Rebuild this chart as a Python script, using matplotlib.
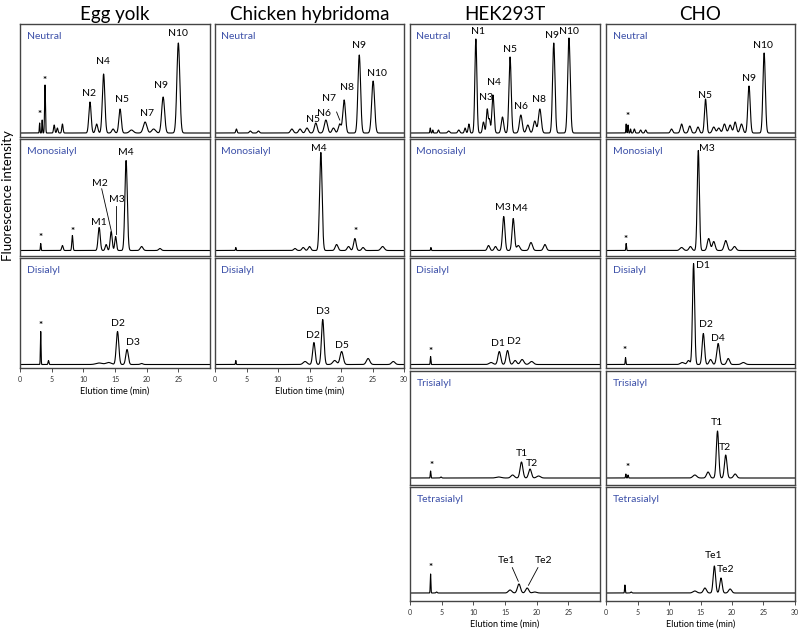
import numpy as np
import matplotlib.pyplot as plt

plt.rcParams['font.family'] = ['Lato', 'DejaVu Sans']

# peak tables: (elution time min, height, width min)
egg_neutral = [(3.1, 10, 0.05), (3.5, 13, 0.05), (3.95, 48, 0.07), (5.4, 8, 0.1), (5.9, 5, 0.1),
               (6.7, 9, 0.1), (11.05, 31, 0.18), (12.1, 9, 0.18), (13.2, 59, 0.2), (14.7, 4, 0.2),
               (15.8, 24, 0.19), (17.6, 3, 0.3), (19.75, 11, 0.28), (21.1, 4, 0.3), (22.6, 36, 0.23),
               (25.0, 90, 0.23)]
egg_mono = [(3.27, 7, 0.05), (6.7, 5, 0.12), (8.27, 15, 0.09), (12.5, 23, 0.17), (13.6, 6, 0.15),
            (14.4, 19, 0.16), (15.1, 14, 0.14), (16.75, 90, 0.19), (19.2, 4, 0.22), (22.1, 2, 0.2)]
egg_di = [(3.27, 33, 0.05), (4.5, 4, 0.07), (12.5, 1.5, 0.5), (14.0, 2, 0.4), (15.4, 33, 0.2),
          (16.9, 15, 0.2), (19.2, 1, 0.2)]

chk_neutral = [(3.4, 4, 0.1), (5.6, 2, 0.15), (6.9, 2, 0.15), (12.2, 4, 0.22), (13.5, 4, 0.22),
               (14.6, 5, 0.22), (16.0, 10, 0.22), (17.6, 13, 0.25), (18.8, 5, 0.22), (19.8, 9, 0.22),
               (20.5, 33, 0.21), (22.9, 78, 0.21), (25.1, 52, 0.23)]
chk_mono = [(3.3, 3, 0.05), (12.7, 2, 0.2), (14.0, 3, 0.2), (15.0, 4, 0.2), (16.8, 98, 0.2),
            (19.3, 6, 0.22), (21.2, 4, 0.22), (22.2, 12, 0.2), (23.5, 3, 0.2), (26.6, 4, 0.27)]
chk_di = [(3.3, 4, 0.05), (14.3, 3, 0.3), (15.7, 22, 0.2), (17.1, 45, 0.2), (19.0, 4, 0.3),
          (20.1, 13, 0.25), (24.3, 6, 0.27), (28.3, 3, 0.27)]

hek_neutral = [(3.2, 5, 0.06), (3.6, 3, 0.06), (4.5, 3, 0.1), (6.1, 2, 0.15), (7.7, 3, 0.15),
               (8.7, 5, 0.12), (9.3, 9, 0.12), (10.4, 94, 0.16), (11.6, 11, 0.15), (12.2, 24, 0.14),
               (12.55, 13, 0.12), (13.1, 38, 0.17), (14.6, 16, 0.19), (15.8, 76, 0.18), (17.5, 18, 0.22),
               (18.6, 8, 0.22), (19.7, 12, 0.22), (20.5, 24, 0.22), (22.7, 90, 0.19), (25.1, 95, 0.2)]
hek_mono = [(3.3, 3, 0.05), (12.4, 5, 0.19), (13.5, 4, 0.19), (14.8, 34, 0.19), (16.3, 32, 0.19),
            (17.1, 5, 0.25), (19.1, 8, 0.24), (21.3, 6, 0.22)]
hek_di = [(3.25, 8, 0.05), (12.8, 2, 0.3), (14.1, 13, 0.22), (15.4, 14, 0.22), (16.6, 4, 0.24),
          (17.7, 5, 0.27), (19.2, 3, 0.3)]
hek_tri = [(3.25, 7, 0.05), (4.9, 1, 0.1), (14.0, 1, 0.4), (16.2, 3, 0.27), (17.6, 16, 0.22),
           (18.95, 9, 0.22), (20.3, 2, 0.3)]
hek_tetra = [(3.25, 19, 0.05), (4.2, 1, 0.1), (15.8, 3, 0.27), (17.2, 9, 0.24), (18.5, 5, 0.24),
             (19.7, 1, 0.3)]

cho_neutral = [(3.2, 9, 0.05), (3.5, 8, 0.05), (3.9, 4, 0.06), (4.5, 4, 0.1), (5.5, 3, 0.12),
               (6.3, 3, 0.12), (10.4, 4, 0.17), (12.0, 9, 0.19), (13.3, 7, 0.19), (14.6, 6, 0.19),
               (15.8, 34, 0.17), (17.1, 6, 0.22), (17.9, 5, 0.22), (18.8, 9, 0.22), (19.7, 8, 0.22),
               (20.5, 11, 0.2), (21.5, 9, 0.22), (22.7, 47, 0.19), (25.1, 80, 0.19)]
cho_mono = [(3.2, 7, 0.05), (12.0, 3, 0.27), (13.4, 4, 0.22), (14.65, 100, 0.17), (16.3, 12, 0.22),
            (17.1, 9, 0.22), (19.0, 10, 0.24), (20.4, 4, 0.24)]
cho_di = [(3.1, 7, 0.05), (12.1, 2, 0.3), (13.1, 4, 0.22), (13.9, 101, 0.17), (15.45, 31, 0.19),
          (16.6, 5, 0.22), (17.8, 21, 0.22), (19.4, 6, 0.22), (21.8, 2, 0.3)]
cho_tri = [(3.15, 4, 0.05), (3.5, 3, 0.05), (14.1, 3, 0.3), (16.2, 6, 0.24), (17.7, 47, 0.19),
           (19.0, 23, 0.2), (20.5, 4, 0.24)]
cho_tetra = [(3.0, 8, 0.05), (4.0, 1, 0.1), (14.1, 2, 0.3), (15.7, 5, 0.24), (17.2, 27, 0.19),
             (18.25, 15, 0.19), (19.7, 4, 0.24)]

# peak labels: (text, time, height)
egg_neutral_lab = [('*', 3.16, 14), ('*', 3.95, 48), ('N2', 10.9, 39), ('N4', 13.1, 71), ('N5', 16.1, 34),
                   ('N7', 20.05, 19), ('N9', 22.3, 47), ('N10', 24.95, 100)]
egg_mono_lab = [('*', 3.27, 8), ('*', 8.3, 15), ('M1', 12.4, 27.7), ('M2', 12.6, 66.7),
                ('M3', 15.3, 50.7), ('M4', 16.7, 97.7)]
egg_di_lab = [('*', 3.27, 35), ('D2', 15.4, 41), ('D3', 17.8, 22)]
chk_neutral_lab = [('N5', 15.5, 14), ('N6', 17.3, 19.5), ('N7', 18.1, 34.5), ('N8', 20.9, 45.5),
                   ('N9', 22.9, 88), ('N10', 25.7, 59.5)]
chk_mono_lab = [('M4', 16.4, 102), ('*', 22.3, 14)]
chk_di_lab = [('D2', 15.5, 29), ('D3', 17.1, 53), ('D5', 20.1, 19)]
hek_neutral_lab = [('N1', 10.8, 101), ('N3', 12.05, 35.5), ('N4', 13.3, 50.5), ('N5', 15.8, 84),
                   ('N6', 17.5, 26.5), ('N8', 20.4, 33), ('N9', 22.4, 97), ('N10', 25.15, 101)]
hek_mono_lab = [('M3', 14.6, 43), ('M4', 17.4, 42)]
hek_di_lab = [('*', 3.27, 9), ('D1', 13.9, 21), ('D2', 16.4, 23.3)]
hek_tri_lab = [('*', 3.4, 8.5), ('T1', 17.6, 25), ('T2', 19.2, 15)]
hek_tetra_lab = [('*', 3.3, 21), ('Te1', 15.3, 32.7), ('Te2', 21.05, 32.7)]
cho_neutral_lab = [('*', 3.45, 12), ('N5', 15.7, 38), ('N9', 22.75, 54.5), ('N10', 24.97, 87)]
cho_mono_lab = [('*', 3.17, 6), ('M3', 16.0, 102)]
cho_di_lab = [('*', 3.0, 9.5), ('D1', 15.4, 99), ('D2', 15.9, 40), ('D4', 17.7, 25.7)]
cho_tri_lab = [('*', 3.45, 6), ('T1', 17.6, 55.7), ('T2', 18.9, 30)]
cho_tetra_lab = [('Te1', 17.0, 37.3), ('Te2', 19.0, 24)]

# leader lines: ((t1, h1), (t2, h2))
egg_mono_lines = [((12.9, 61.7), (14.4, 20)), ((15.2, 45), (15.2, 17))]
chk_neutral_lines = [((19.3, 21), (19.8, 13))]
hek_tetra_lines = [((16.15, 25.4), (17.1, 11.7)), ((20.2, 25.4), (18.7, 7.7))]

col_titles = ['Egg yolk', 'Chicken hybridoma', 'HEK293T', 'CHO']
fraction_names = ['Neutral', 'Monosialyl', 'Disialyl', 'Trisialyl', 'Tetrasialyl']

# layout in pixels
W, H = 800, 633
cols_px = [(20, 210), (215, 404), (410, 600), (606, 795)]
rows_px = [(24, 137, 4), (139, 256, 5.5), (258, 368, 3.5), (371, 485, 7), (487, 601, 8)]

t = np.linspace(0, 30, 3001)


def trace(peaks):
    y = np.zeros_like(t)
    for rt, h, w in peaks:
        y += h * np.exp(-0.5 * ((t - rt) / w) ** 2)
    return y


fig = plt.figure(figsize=(8, 6.33), dpi=100)

panels = [
    (0, 0, egg_neutral, egg_neutral_lab, []),
    (0, 1, egg_mono, egg_mono_lab, egg_mono_lines),
    (0, 2, egg_di, egg_di_lab, []),
    (1, 0, chk_neutral, chk_neutral_lab, chk_neutral_lines),
    (1, 1, chk_mono, chk_mono_lab, []),
    (1, 2, chk_di, chk_di_lab, []),
    (2, 0, hek_neutral, hek_neutral_lab, []),
    (2, 1, hek_mono, hek_mono_lab, []),
    (2, 2, hek_di, hek_di_lab, []),
    (2, 3, hek_tri, hek_tri_lab, []),
    (2, 4, hek_tetra, hek_tetra_lab, hek_tetra_lines),
    (3, 0, cho_neutral, cho_neutral_lab, []),
    (3, 1, cho_mono, cho_mono_lab, []),
    (3, 2, cho_di, cho_di_lab, []),
    (3, 3, cho_tri, cho_tri_lab, []),
    (3, 4, cho_tetra, cho_tetra_lab, []),
]
last_row = {0: 2, 1: 2, 2: 4, 3: 4}

for c, r, peaks, labels, lines in panels:
    x0, x1 = cols_px[c]
    top, bot, off = rows_px[r]
    ax = fig.add_axes([x0 / W, 1 - bot / H, (x1 - x0) / W, (bot - top) / H])
    ax.plot(t, trace(peaks), color='black', lw=0.8)
    ax.set_xlim(0, 30)
    ax.set_ylim(-off, bot - top - off)
    ax.set_yticks([])
    for s in ax.spines.values():
        s.set_color('#444444')
        s.set_linewidth(1.0)
    ax.text(6.5 / (x1 - x0), 1 - 12.5 / (bot - top), fraction_names[r], transform=ax.transAxes,
            color='#3b4fa8', fontsize=7.5, va='center', ha='left')
    for txt, lt, lh in labels:
        if txt == '*':
            ax.text(lt, lh, txt, fontsize=7, ha='center', va='bottom', fontweight='bold')
        else:
            ax.text(lt, lh, txt, fontsize=7.5, ha='center', va='center')
    for (a, b), (cc, d) in lines:
        ax.plot([a, cc], [b, d], color='black', lw=0.6)
    if r == last_row[c]:
        ticks = [0, 5, 10, 15, 20, 25] if c in (0, 2) else [0, 5, 10, 15, 20, 25, 30]
        ax.set_xticks(ticks)
        ax.tick_params(axis='x', length=3, width=0.6, labelsize=5, pad=3, colors='#333333')
        ax.set_xlabel('Elution time (min)', fontsize=6.5, labelpad=2)
    else:
        ax.set_xticks([])
    if r == 0:
        ax.set_title(col_titles[c], fontsize=13.5, pad=3)

fig.text(8 / W, 1 - 196 / H, 'Fluorescence intensity', rotation=90, fontsize=9.5,
         ha='center', va='center')

plt.savefig('out.png', dpi=100)
